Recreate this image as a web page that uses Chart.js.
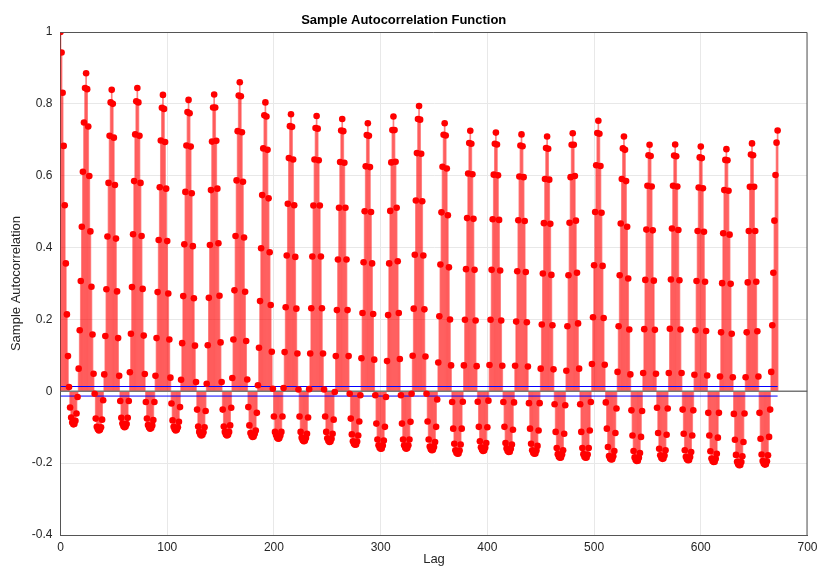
<!DOCTYPE html>
<html>
<head>
<meta charset="utf-8">
<title>Sample Autocorrelation Function</title>
<script src="https://cdn.jsdelivr.net/npm/chart.js@4.4.0/dist/chart.umd.min.js"></script>
<style>
    html, body { margin: 0; padding: 0; background: #fff; }
    #wrap { width: 818px; height: 567px; }
</style>
</head>
<body>
<div id="wrap"><canvas id="acfChart" width="818" height="567"></canvas></div>
<script>
// 样本自相关值, 按天分行 (每行 24 个滞后), lag = 数组下标
const acfWeek1 = [
    1.000, 0.943, 0.831, 0.683, 0.518, 0.356, 0.214, 0.098, 0.012, -0.045, -0.073, -0.087, -0.092, -0.091, -0.082, -0.062, -0.016, 0.063, 0.170, 0.307, 0.458, 0.611, 0.748, 0.844,
    0.885, 0.841, 0.737, 0.599, 0.445, 0.291, 0.158, 0.049, -0.007, -0.076, -0.099, -0.106, -0.109, -0.107, -0.100, -0.079, -0.025, 0.047, 0.154, 0.284, 0.431, 0.580, 0.711, 0.804,
    0.839, 0.800, 0.706, 0.574, 0.425, 0.278, 0.148, 0.043, -0.027, -0.074, -0.090, -0.097, -0.100, -0.098, -0.091, -0.074, -0.027, 0.053, 0.160, 0.290, 0.437, 0.585, 0.715, 0.807,
    0.844, 0.804, 0.711, 0.580, 0.432, 0.285, 0.155, 0.048, -0.030, -0.076, -0.094, -0.101, -0.104, -0.102, -0.095, -0.080, -0.030, 0.043, 0.148, 0.276, 0.421, 0.568, 0.698, 0.789,
    0.825, 0.786, 0.694, 0.564, 0.418, 0.272, 0.144, 0.038, -0.034, -0.081, -0.099, -0.106, -0.109, -0.107, -0.100, -0.085, -0.044, 0.032, 0.134, 0.265, 0.409, 0.555, 0.684, 0.777,
    0.811, 0.774, 0.681, 0.551, 0.404, 0.259, 0.127, 0.026, -0.051, -0.098, -0.113, -0.120, -0.123, -0.121, -0.114, -0.100, -0.055, 0.021, 0.128, 0.260, 0.407, 0.560, 0.695, 0.790,
    0.826, 0.790, 0.697, 0.564, 0.412, 0.266, 0.136, 0.026, -0.051, -0.098, -0.113, -0.120, -0.123, -0.121, -0.113, -0.095, -0.046, 0.037, 0.144, 0.281, 0.432, 0.587, 0.724, 0.823
];
const acfWeek2 = [
    0.860, 0.821, 0.721, 0.583, 0.428, 0.277, 0.140, 0.033, -0.044, -0.095, -0.116, -0.124, -0.127, -0.126, -0.118, -0.109, -0.060, 0.017, 0.121, 0.251, 0.398, 0.546, 0.676, 0.768,
    0.804, 0.765, 0.672, 0.537, 0.387, 0.240, 0.110, 0.007, -0.070, -0.113, -0.122, -0.129, -0.132, -0.131, -0.123, -0.113, -0.070, 0.009, 0.109, 0.234, 0.378, 0.522, 0.649, 0.738,
    0.771, 0.736, 0.645, 0.518, 0.374, 0.230, 0.105, 0.005, -0.070, -0.113, -0.129, -0.136, -0.139, -0.138, -0.130, -0.118, -0.073, 0.006, 0.105, 0.231, 0.375, 0.517, 0.645, 0.733,
    0.766, 0.731, 0.643, 0.517, 0.375, 0.231, 0.105, 0.005, -0.070, -0.113, -0.131, -0.138, -0.141, -0.140, -0.132, -0.118, -0.079, -0.002, 0.098, 0.226, 0.367, 0.511, 0.638, 0.726,
    0.758, 0.724, 0.636, 0.511, 0.367, 0.226, 0.098, -0.007, -0.076, -0.120, -0.139, -0.146, -0.149, -0.148, -0.140, -0.123, -0.084, -0.011, 0.092, 0.218, 0.359, 0.501, 0.626, 0.713,
    0.746, 0.711, 0.624, 0.499, 0.356, 0.215, 0.088, -0.011, -0.090, -0.134, -0.150, -0.157, -0.160, -0.159, -0.151, -0.137, -0.099, -0.016, 0.084, 0.212, 0.356, 0.502, 0.637, 0.727,
    0.765, 0.727, 0.639, 0.511, 0.362, 0.218, 0.090, -0.011, -0.090, -0.134, -0.150, -0.157, -0.160, -0.158, -0.150, -0.134, -0.085, -0.007, 0.099, 0.230, 0.380, 0.531, 0.663, 0.758
];
const acfWeek3 = [
    0.794, 0.756, 0.661, 0.529, 0.378, 0.228, 0.097, -0.007, -0.084, -0.134, -0.154, -0.161, -0.164, -0.163, -0.155, -0.141, -0.099, -0.023, 0.080, 0.209, 0.353, 0.498, 0.625, 0.714,
    0.746, 0.712, 0.620, 0.490, 0.345, 0.200, 0.072, -0.030, -0.104, -0.146, -0.164, -0.171, -0.174, -0.173, -0.165, -0.148, -0.104, -0.029, 0.072, 0.199, 0.340, 0.482, 0.606, 0.691,
    0.725, 0.689, 0.604, 0.480, 0.338, 0.197, 0.070, -0.029, -0.099, -0.139, -0.156, -0.163, -0.166, -0.165, -0.157, -0.144, -0.100, -0.026, 0.073, 0.199, 0.338, 0.479, 0.603, 0.689,
    0.720, 0.687, 0.601, 0.477, 0.336, 0.197, 0.071, -0.030, -0.099, -0.144, -0.159, -0.166, -0.169, -0.168, -0.160, -0.148, -0.107, -0.031, 0.071, 0.194, 0.334, 0.476, 0.598, 0.684,
    0.715, 0.682, 0.596, 0.474, 0.332, 0.192, 0.069, -0.033, -0.104, -0.146, -0.164, -0.171, -0.174, -0.173, -0.165, -0.152, -0.109, -0.033, 0.063, 0.186, 0.328, 0.468, 0.591, 0.677,
    0.709, 0.675, 0.589, 0.466, 0.324, 0.184, 0.061, -0.036, -0.113, -0.158, -0.175, -0.182, -0.185, -0.184, -0.176, -0.164, -0.118, -0.039, 0.057, 0.181, 0.323, 0.469, 0.596, 0.686,
    0.718, 0.686, 0.599, 0.475, 0.330, 0.189, 0.063, -0.036, -0.113, -0.158, -0.175, -0.182, -0.185, -0.184, -0.176, -0.158, -0.109, -0.030, 0.076, 0.206, 0.351, 0.499, 0.629, 0.719
];
const acfWeek4 = [
    0.753, 0.717, 0.627, 0.497, 0.349, 0.204, 0.074, -0.031, -0.104, -0.155, -0.180, -0.187, -0.190, -0.189, -0.181, -0.166, -0.116, -0.048, 0.054, 0.181, 0.323, 0.467, 0.591, 0.676,
    0.709, 0.672, 0.585, 0.458, 0.314, 0.172, 0.047, -0.053, -0.123, -0.166, -0.184, -0.191, -0.194, -0.193, -0.185, -0.172, -0.127, -0.055, 0.051, 0.173, 0.310, 0.450, 0.572, 0.657,
    0.686, 0.655, 0.570, 0.448, 0.308, 0.171, 0.049, -0.046, -0.116, -0.160, -0.178, -0.185, -0.188, -0.187, -0.179, -0.164, -0.121, -0.048, 0.051, 0.174, 0.311, 0.453, 0.572, 0.656,
    0.687, 0.654, 0.570, 0.449, 0.309, 0.172, 0.051, -0.051, -0.118, -0.164, -0.182, -0.189, -0.192, -0.191, -0.183, -0.169, -0.123, -0.053, 0.046, 0.170, 0.307, 0.446, 0.567, 0.651,
    0.681, 0.649, 0.565, 0.444, 0.305, 0.168, 0.044, -0.060, -0.123, -0.167, -0.187, -0.194, -0.197, -0.196, -0.188, -0.174, -0.129, -0.060, 0.041, 0.164, 0.301, 0.440, 0.560, 0.644,
    0.674, 0.643, 0.558, 0.436, 0.299, 0.160, 0.039, -0.063, -0.135, -0.177, -0.196, -0.203, -0.206, -0.205, -0.197, -0.181, -0.141, -0.062, 0.039, 0.164, 0.303, 0.446, 0.569, 0.659,
    0.690, 0.657, 0.569, 0.446, 0.305, 0.167, 0.041, -0.060, -0.132, -0.176, -0.194, -0.201, -0.204, -0.203, -0.195, -0.178, -0.127, -0.051, 0.054, 0.184, 0.330, 0.475, 0.602, 0.692,
    0.726
];

// 置信区间上下界
const confBounds = [0.0133, -0.0133];

// 坐标轴
const xTicks = [0, 100, 200, 300, 400, 500, 600, 700];
const yTicks = [-0.4, -0.2, 0, 0.2, 0.4, 0.6, 0.8, 1];

const FONT = "'Liberation Sans', Arial, Helvetica, sans-serif";

const acf = [...acfWeek1, ...acfWeek2, ...acfWeek3, ...acfWeek4];
const lagPoints = acf.map((v, lag) => ({ x: lag, y: v }));
const maxLag = acf.length - 1;

// 绘图区外框 (上边和右边)
const boxPlugin = {
    id: 'box',
    afterDraw(chart) {
        const { ctx, chartArea: a } = chart;
        ctx.save();
        ctx.strokeStyle = '#555';
        ctx.lineWidth = 1;
        ctx.beginPath();
        ctx.moveTo(a.left, a.top + 0.5);
        ctx.lineTo(a.right - 0.5, a.top + 0.5);
        ctx.lineTo(a.right - 0.5, a.bottom);
        ctx.stroke();
        ctx.restore();
    }
};

new Chart(document.getElementById('acfChart'), {
    type: 'bar',
    data: {
        datasets: [
            {
                type: 'scatter',
                data: lagPoints,
                pointRadius: 3.3,
                pointBackgroundColor: '#ff0000',
                pointBorderColor: '#ff0000',
                pointBorderWidth: 0,
                order: 0
            },
            {
                type: 'line',
                data: [{ x: 0, y: confBounds[0] }, { x: maxLag, y: confBounds[0] }],
                borderColor: '#0000ff',
                borderWidth: 1,
                pointRadius: 0,
                order: 1
            },
            {
                type: 'line',
                data: [{ x: 0, y: confBounds[1] }, { x: maxLag, y: confBounds[1] }],
                borderColor: '#0000ff',
                borderWidth: 1,
                pointRadius: 0,
                order: 1
            },
            {
                type: 'line',
                data: [{ x: xTicks[0], y: 0 }, { x: xTicks[xTicks.length - 1], y: 0 }],
                borderColor: '#777',
                borderWidth: 1.5,
                pointRadius: 0,
                order: 2
            },
            {
                type: 'bar',
                data: lagPoints,
                backgroundColor: 'rgba(255, 0, 0, 0.5)',
                barThickness: 1,
                order: 3
            }
        ]
    },
    options: {
        responsive: false,
        animation: false,
        layout: { padding: { left: 0, right: 10.5, top: 0, bottom: 0 } },
        plugins: {
            legend: { display: false },
            tooltip: { enabled: false },
            title: {
                display: true,
                text: 'Sample Autocorrelation Function',
                color: '#000',
                font: { family: FONT, size: 13, weight: 'bold', lineHeight: 1.2 },
                padding: { top: 13, bottom: 3.4 }
            }
        },
        scales: {
            x: {
                type: 'linear',
                min: xTicks[0],
                max: xTicks[xTicks.length - 1],
                offset: false,
                afterBuildTicks: s => { s.ticks = xTicks.map(v => ({ value: v })); },
                afterFit: s => {
                    s.height = 32;
                    s.paddingLeft = 0;
                    s.paddingRight = 0;
                },
                ticks: {
                    padding: 5,
                    maxRotation: 0,
                    color: '#262626',
                    font: { family: FONT, size: 12 }
                },
                grid: { color: '#e8e8e8', drawTicks: false, offset: false },
                border: { color: '#555', width: 1 },
                title: {
                    display: true,
                    text: 'Lag',
                    color: '#262626',
                    font: { family: FONT, size: 13, lineHeight: 1.2 },
                    padding: 0
                }
            },
            y: {
                min: yTicks[0],
                max: yTicks[yTicks.length - 1],
                afterBuildTicks: s => { s.ticks = yTicks.map(v => ({ value: v })); },
                afterFit: s => {
                    s.width = 60.5;
                    s.paddingTop = 0;
                    s.paddingBottom = 0;
                },
                ticks: {
                    padding: 8,
                    color: '#262626',
                    font: { family: FONT, size: 12 },
                    callback: v => String(+v.toFixed(1))
                },
                grid: { color: '#e8e8e8', drawTicks: false },
                border: { color: '#555', width: 1 },
                title: {
                    display: true,
                    text: 'Sample Autocorrelation',
                    color: '#262626',
                    font: { family: FONT, size: 13, lineHeight: 1.2 },
                    padding: { top: 9, bottom: 0 }
                }
            }
        }
    },
    plugins: [boxPlugin]
});
</script>
</body>
</html>
